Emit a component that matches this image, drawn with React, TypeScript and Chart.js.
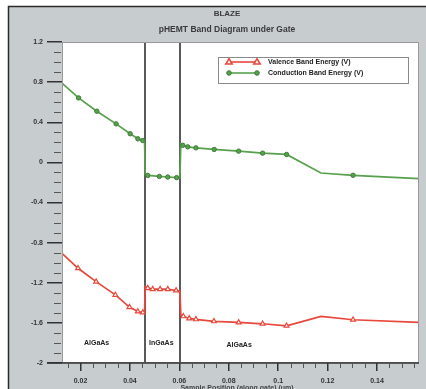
import React, { useEffect, useRef } from 'react';
import { Chart, registerables } from 'chart.js';
Chart.register(...registerables);

// ---------- data ----------
const conductionX = [0.0125, 0.0192, 0.0266, 0.0344, 0.0401, 0.0432, 0.0452, 0.0459, 0.0462, 0.0472, 0.0519, 0.0553, 0.0589, 0.0602, 0.0606, 0.0614, 0.0634, 0.0667, 0.0741, 0.0840, 0.0937, 0.1034, 0.1173, 0.1303, 0.157];
const conductionY = [0.79, 0.643, 0.51, 0.384, 0.285, 0.235, 0.218, 0.215, -0.125, -0.13, -0.14, -0.146, -0.152, -0.155, 0.185, 0.17, 0.155, 0.145, 0.129, 0.112, 0.092, 0.079, -0.106, -0.129, -0.162];
const conductionMarked = [0, 1, 1, 1, 1, 1, 1, 0, 0, 1, 1, 1, 1, 0, 0, 1, 1, 1, 1, 1, 1, 1, 0, 1, 0];

const valenceX = [0.0125, 0.0190, 0.0263, 0.0341, 0.0398, 0.0432, 0.0452, 0.0459, 0.0462, 0.0472, 0.0492, 0.0522, 0.0553, 0.0587, 0.0602, 0.0606, 0.0616, 0.0640, 0.0667, 0.0740, 0.0840, 0.0937, 0.1034, 0.1173, 0.1303, 0.157];
const valenceY = [-0.907, -1.056, -1.189, -1.321, -1.443, -1.487, -1.497, -1.50, -1.238, -1.254, -1.264, -1.264, -1.264, -1.278, -1.28, -1.519, -1.535, -1.556, -1.565, -1.585, -1.596, -1.609, -1.629, -1.536, -1.569, -1.596];
const valenceMarked = [0, 1, 1, 1, 1, 1, 1, 0, 0, 1, 1, 1, 1, 1, 0, 0, 1, 1, 1, 1, 1, 1, 1, 0, 1, 0];

const interfaces = [0.0459, 0.0604];
const regionNames = ['AlGaAs', 'InGaAs', 'AlGaAs'];
const regionX = [0.0265, 0.0527, 0.0842];
const regionY = [-1.8, -1.8, -1.82];

const xTickValues = [0.02, 0.04, 0.06, 0.08, 0.1, 0.12, 0.14];
const yTickValues = [1.2, 0.8, 0.4, 0, -0.4, -0.8, -1.2, -1.6, -2];

const titleText = 'BLAZE';
const subtitleText = 'pHEMT Band Diagram under Gate';
const xTitle = 'Sample Position (along gate) (um)';
const seriesNames = ['Valence Band Energy (V)', 'Conduction Band Energy (V)'];

// ---------- style ----------
const RED = '#e8473b';
const GREEN = '#58a04e';
const GREEN_DARK = '#3f7d39';
const FRAME = '#c7cccf';
const INK = '#333333';
const FONT = '"Liberation Sans", Arial, sans-serif';

function tri(ctx: CanvasRenderingContext2D, x: number, y: number, r: number) {
  ctx.beginPath();
  ctx.moveTo(x, y - r);
  ctx.lineTo(x + r * 0.95, y + r * 0.6);
  ctx.lineTo(x - r * 0.95, y + r * 0.6);
  ctx.closePath();
}

const framePlugin = {
  id: 'framePlugin',
  beforeDraw(chart: any) {
    const { ctx, width, height, chartArea: a } = chart;
    ctx.save();
    ctx.fillStyle = '#ffffff';
    ctx.fillRect(0, 0, width, height);
    ctx.fillStyle = FRAME;
    ctx.fillRect(8, 6, width - 8, height - 6);
    ctx.strokeStyle = '#2a2a2a';
    ctx.lineWidth = 1.5;
    ctx.beginPath();
    ctx.moveTo(8.5, height);
    ctx.lineTo(8.5, 6.5);
    ctx.lineTo(width, 6.5);
    ctx.stroke();
    ctx.fillStyle = '#ffffff';
    ctx.fillRect(a.left, a.top, a.right - a.left, a.bottom - a.top);
    ctx.restore();
  },
  beforeDatasetsDraw(chart: any) {
    const { ctx, chartArea: a, scales } = chart;
    ctx.save();
    ctx.strokeStyle = '#5a5a5a';
    ctx.lineWidth = 2;
    interfaces.forEach((v) => {
      const px = Math.round(scales.x.getPixelForValue(v));
      ctx.beginPath();
      ctx.moveTo(px, a.top);
      ctx.lineTo(px, a.bottom);
      ctx.stroke();
    });
    ctx.restore();
  },
  afterDraw(chart: any) {
    const { ctx, chartArea: a, scales } = chart;
    const xs = scales.x, ys = scales.y;
    ctx.save();
    // plot border
    ctx.strokeStyle = '#9a9a9a';
    ctx.lineWidth = 1;
    ctx.strokeRect(a.left + 0.5, a.top + 0.5, a.right - a.left - 1, a.bottom - a.top - 1);
    ctx.strokeStyle = INK;
    ctx.lineWidth = 1.5;
    ctx.beginPath();
    ctx.moveTo(a.left - 15, a.bottom);
    ctx.lineTo(a.right, a.bottom);
    ctx.stroke();

    // minor ticks
    ctx.strokeStyle = '#555555';
    ctx.lineWidth = 1;
    for (let i = -20; i <= 12; i++) {
      if (i % 4 === 0) continue;
      const py = Math.round(ys.getPixelForValue(i / 10)) + 0.5;
      ctx.beginPath();
      ctx.moveTo(a.left - 8, py);
      ctx.lineTo(a.left - 1, py);
      ctx.stroke();
    }
    for (let i = 3; i <= 31; i++) {
      if (i % 4 === 0) continue;
      const v = i * 0.005;
      if (v < xs.min || v > xs.max) continue;
      const px = Math.round(xs.getPixelForValue(v)) + 0.5;
      ctx.beginPath();
      ctx.moveTo(px, a.bottom + 1);
      ctx.lineTo(px, a.bottom + 5);
      ctx.stroke();
    }

    // titles
    ctx.fillStyle = '#3a3a3a';
    ctx.textAlign = 'center';
    ctx.textBaseline = 'middle';
    ctx.font = `bold 8px ${FONT}`;
    ctx.fillText(titleText, 227, 14);
    ctx.font = `bold 8.5px ${FONT}`;
    ctx.fillText(subtitleText, 227, 30);

    // region labels
    ctx.font = `bold 7px ${FONT}`;
    ctx.fillStyle = '#222222';
    regionNames.forEach((n, i) => {
      ctx.fillText(n, xs.getPixelForValue(regionX[i]), ys.getPixelForValue(regionY[i]));
    });

    // x title (cut by bottom edge)
    ctx.textBaseline = 'top';
    ctx.fillStyle = '#444444';
    ctx.fillText(xTitle, 237, 385);

    // legend
    const bx = 218, by = 57, bw = 190, bh = 26;
    ctx.fillStyle = '#ffffff';
    ctx.fillRect(bx, by, bw, bh);
    ctx.strokeStyle = '#8a8a8a';
    ctx.lineWidth = 1;
    ctx.strokeRect(bx + 0.5, by + 0.5, bw, bh);
    const rows = [
      { c: RED, y: by + 5, m: 'tri' },
      { c: GREEN, y: by + 16, m: 'circ' },
    ];
    rows.forEach((r, i) => {
      ctx.strokeStyle = r.c;
      ctx.lineWidth = 1.6;
      ctx.beginPath();
      ctx.moveTo(229, r.y);
      ctx.lineTo(257, r.y);
      ctx.stroke();
      [229, 257].forEach((mx) => {
        if (r.m === 'tri') {
          tri(ctx, mx, r.y, 3.3);
          ctx.fillStyle = '#ffffff';
          ctx.fill();
          ctx.stroke();
        } else {
          ctx.beginPath();
          ctx.arc(mx, r.y, 2.3, 0, Math.PI * 2);
          ctx.fillStyle = r.c;
          ctx.fill();
          ctx.strokeStyle = GREEN_DARK;
          ctx.lineWidth = 1;
          ctx.stroke();
        }
      });
      ctx.fillStyle = '#222222';
      ctx.textAlign = 'left';
      ctx.textBaseline = 'middle';
      ctx.font = `bold 7px ${FONT}`;
      ctx.fillText(seriesNames[i], 268, r.y + 0.5);
    });
    ctx.restore();
  },
};

function toPoints(xs: number[], ys: number[]) {
  return xs.map((x, i) => ({ x, y: ys[i] }));
}

export default function App() {
  const ref = useRef<HTMLCanvasElement | null>(null);
  useEffect(() => {
    if (!ref.current) return;
    const chart = new Chart(ref.current, {
      type: 'scatter',
      data: {
        datasets: [
          {
            label: seriesNames[0],
            data: toPoints(valenceX, valenceY),
            showLine: true,
            borderColor: RED,
            backgroundColor: 'rgba(255,255,255,1)',
            borderWidth: 1.7,
            pointStyle: 'triangle',
            pointBorderColor: RED,
            pointBorderWidth: 1.2,
            pointRadius: (c: any) => (valenceMarked[c.dataIndex] ? 2.8 : 0),
            tension: 0,
          },
          {
            label: seriesNames[1],
            data: toPoints(conductionX, conductionY),
            showLine: true,
            borderColor: GREEN,
            backgroundColor: GREEN,
            borderWidth: 1.7,
            pointStyle: 'circle',
            pointBorderColor: GREEN_DARK,
            pointBorderWidth: 1,
            pointRadius: (c: any) => (conductionMarked[c.dataIndex] ? 2.2 : 0),
            tension: 0,
          },
        ],
      },
      options: {
        responsive: false,
        animation: false,
        layout: { padding: { left: 8, top: 42, right: 7, bottom: 0 } },
        plugins: {
          legend: { display: false },
          title: { display: false },
          tooltip: { enabled: false },
        },
        scales: {
          x: {
            type: 'linear',
            min: 0.0125,
            max: 0.157,
            afterFit: (s: any) => { s.height = 26; },
            afterBuildTicks: (s: any) => { s.ticks = xTickValues.map((v) => ({ value: v })); },
            ticks: {
              callback: (v: any) => String(v),
              font: { family: FONT, size: 7, weight: 'bold' },
              color: INK,
              padding: 6,
              maxRotation: 0,
              autoSkip: false,
            },
            grid: { drawOnChartArea: false, drawTicks: true, tickLength: 8, tickColor: INK, lineWidth: 1.5 },
            border: { display: false },
          },
          y: {
            type: 'linear',
            min: -2,
            max: 1.2,
            afterFit: (s: any) => { s.width = 54; },
            afterBuildTicks: (s: any) => { s.ticks = yTickValues.map((v) => ({ value: v })); },
            ticks: {
              callback: (v: any) => String(v),
              font: { family: FONT, size: 7, weight: 'bold' },
              color: INK,
              padding: 4,
              autoSkip: false,
            },
            grid: { drawOnChartArea: false, drawTicks: true, tickLength: 15, tickColor: INK, lineWidth: 1.5 },
            border: { display: false },
          },
        },
      },
      plugins: [framePlugin],
    } as any);
    return () => chart.destroy();
  }, []);
  return (
    <div style={{ position: 'fixed', left: 0, top: 0, width: 426, height: 389 }}>
      <canvas ref={ref} width={426} height={389} style={{ width: 426, height: 389, display: 'block' }} />
    </div>
  );
}
